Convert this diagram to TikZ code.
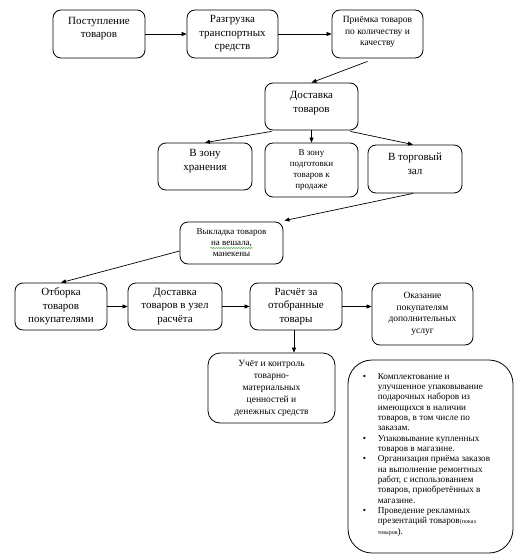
\documentclass[tikz,border=0pt]{standalone}
\usepackage{fontspec}
\setmainfont{Liberation Serif}
\usetikzlibrary{arrows.meta,calc,decorations.pathmorphing}
\begin{document}
\begin{tikzpicture}[x=1pt,y=-1pt,
  box/.style={draw=black,line width=0.8pt,rounded corners=8pt,align=center,inner sep=1pt},
  fbig/.style={font=\fontsize{11}{13.5}\selectfont},
  fsmall/.style={font=\fontsize{9.5}{11.5}\selectfont},
  up/.style={text depth=#1},
  arr/.style={draw=black,line width=0.7pt,-{Triangle[length=5pt,width=4pt]}}]
\useasboundingbox (0,0) rectangle (525,559);
\node[box,fbig,up=13pt,minimum width=92pt,minimum height=48pt] (b1) at (99,34) {Поступление\\товаров};
\node[box,fbig,minimum width=91pt,minimum height=48pt] (b2) at (232.5,34) {Разгрузка\\транспортных\\средств};
\node[box,fsmall,up=6pt,minimum width=91pt,minimum height=48pt] (b3) at (377.5,34) {Приёмка товаров\\по количеству и\\качеству};
\node[box,fbig,up=9pt,minimum width=93pt,minimum height=47pt] (b4) at (311.5,106.5) {Доставка\\товаров};
\node[box,fbig,up=13pt,minimum width=94pt,minimum height=47pt] (b5) at (205,166.5) {В зону\\хранения};
\node[box,fsmall,font=\fontsize{9}{10.7}\selectfont,minimum width=93pt,minimum height=54pt] (b6) at (311.5,170) {В зону\\подготовки\\товаров к\\продаже};
\node[box,fbig,up=11pt,minimum width=94pt,minimum height=48pt] (b7) at (415,169) {В торговый\\зал};
\node[box,font=\fontsize{9}{11}\selectfont,minimum width=103pt,minimum height=42pt] (b8) at (231.5,243) {Выкладка товаров\\на вешала,\\манекены};
\node[box,fbig,minimum width=92pt,minimum height=47pt] (b9) at (61,306.5) {Отборка\\товаров\\покупателями};
\node[box,fbig,minimum width=94pt,minimum height=47pt] (b10) at (175,306.5) {Доставка\\товаров в узел\\расчёта};
\node[box,fbig,minimum width=92pt,minimum height=47pt] (b11) at (296,306.5) {Расчёт за\\отобранные\\товары};
\node[box,fsmall,minimum width=101pt,minimum height=62pt] (b12) at (422.5,314) {Оказание\\покупателям\\дополнительных\\услуг};
\node[box,font=\fontsize{9.5}{12}\selectfont,minimum width=127pt,minimum height=70pt,rounded corners=12pt] (b13) at (271.5,388) {Учёт и контроль\\товарно-\\материальных\\ценностей и\\денежных средств};
\node[draw=black,line width=0.8pt,rounded corners=24pt,minimum width=165pt,minimum height=193pt,inner sep=0pt] (b14) at (430.5,456.5) {};
\node[anchor=north west,inner sep=0pt,font=\fontsize{9.2}{10.35}\selectfont,align=left] (t14) at ($(b14.north west)+(15,12)$) {%
\begin{tabular}{@{}p{15pt}@{}l@{}}
\textbullet & Комплектование и\\
 & улучшенное упаковывание\\
 & подарочных наборов из\\
 & имеющихся в наличии\\
 & товаров, в том числе по\\
 & заказам.\\
\textbullet & Упаковывание купленных\\
 & товаров в магазине.\\
\textbullet & Организация приёма заказов\\
 & на выполнение ремонтных\\
 & работ, с использованием\\
 & товаров, приобретённых в\\
 & магазине.\\
\textbullet & Проведение рекламных\\
 & презентаций товаров{\fontsize{6}{7}\selectfont(показ}\\
 & {\fontsize{6}{7}\selectfont товаров}).
\end{tabular}};
\draw[decorate,decoration={snake,amplitude=0.6pt,segment length=2.5pt},draw={rgb,255:red,60;green,170;blue,60},line width=0.5pt]
  ($(b8.center)+(-21,5)$) -- ($(b8.center)+(21,5)$);
% connectors
\draw[arr] (b1.east) -- (b2.west);
\draw[arr] (b2.east) -- (b3.west);
\draw[arr] ([xshift=-10pt,yshift=-3pt]b3.south) -- (b4.north);
\draw[arr] ([xshift=7pt,yshift=-1pt]b4.south west) -- (b5.north);
\draw[arr] (b4.south) -- (b6.north);
\draw[arr] ([xshift=-8pt,yshift=-1pt]b4.south east) -- ([xshift=-2pt]b7.north);
\draw[arr] ([xshift=-2pt]b7.south) -- ([xshift=1pt,yshift=1pt]b8.north east);
\draw[arr] ([yshift=-8pt]b8.west) -- (b9.north);
\draw[arr] (b9.east) -- (b10.west);
\draw[arr] (b10.east) -- (b11.west);
\draw[arr] (b11.east) -- (b12.west |- b11.east);
\draw[arr] ([xshift=-2pt]b11.south) -- ([xshift=-2pt]b11.south |- b13.north);
\end{tikzpicture}
\end{document}
